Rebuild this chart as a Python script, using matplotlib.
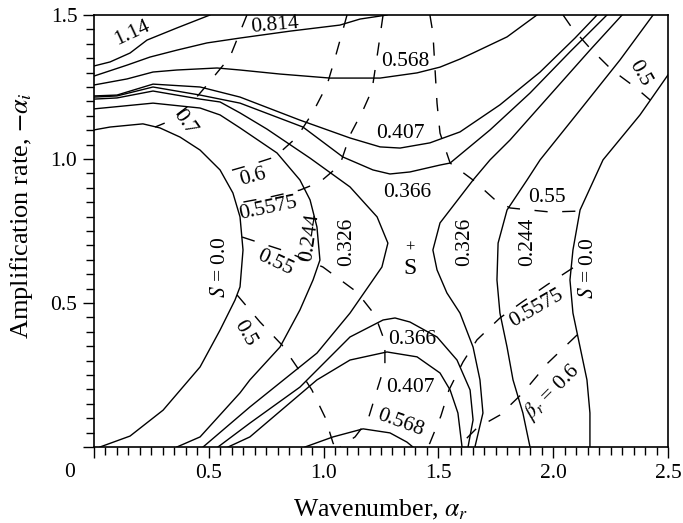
import matplotlib
matplotlib.use("Agg")
import matplotlib.pyplot as plt
from matplotlib.ticker import MultipleLocator, FixedLocator

plt.rcParams['font.family'] = ['Liberation Serif', 'DejaVu Serif']
plt.rcParams['mathtext.fontset'] = 'stix'

# ---------------- data ----------------
# Solid contours (S values), as (alpha_r, -alpha_i) polylines
s114_x = [0, 0.070, 0.157, 0.231, 0.361, 0.505]
s114_y = [1.323, 1.337, 1.368, 1.413, 1.455, 1.5]

s0814_x = [0, 0.144, 0.244, 0.361, 0.492, 0.636, 0.854, 1.071, 1.159, 1.276]
s0814_y = [1.288, 1.326, 1.354, 1.378, 1.403, 1.420, 1.444, 1.465, 1.486, 1.5]

s0568u_x = [0, 0.144, 0.257, 0.361, 0.536, 0.636, 0.810, 1.028, 1.246, 1.407, 1.507, 1.594, 1.651, 1.799, 1.929]
s0568u_y = [1.257, 1.278, 1.302, 1.309, 1.316, 1.309, 1.295, 1.281, 1.281, 1.299, 1.319, 1.347, 1.368, 1.424, 1.5]

s0407u_x = [0, 0.100, 0.257, 0.462, 0.636, 0.897, 1.115, 1.246, 1.333, 1.463, 1.594, 1.768, 1.943, 2.095, 2.191]
s0407u_y = [1.219, 1.222, 1.260, 1.250, 1.215, 1.135, 1.073, 1.042, 1.038, 1.056, 1.094, 1.188, 1.302, 1.420, 1.5]

s0366u_x = [0, 0.100, 0.257, 0.462, 0.636, 0.910, 1.084, 1.215, 1.289, 1.376, 1.507, 1.551, 1.725, 1.899, 2.073, 2.234]
s0366u_y = [1.215, 1.219, 1.250, 1.222, 1.194, 1.111, 1.007, 0.962, 0.948, 0.955, 0.979, 0.986, 1.101, 1.229, 1.372, 1.5]

s0326l_x = [0, 0.100, 0.257, 0.462, 0.549, 0.636, 0.753, 0.941, 1.115, 1.233, 1.280, 1.254, 1.215, 1.115, 0.971, 0.679, 0.475]
s0326l_y = [1.208, 1.212, 1.236, 1.208, 1.198, 1.160, 1.104, 1.003, 0.903, 0.799, 0.708, 0.625, 0.580, 0.465, 0.326, 0.139, 0.0]

s0244l_x = [0, 0.257, 0.462, 0.549, 0.636, 0.797, 0.897, 0.941, 0.971, 0.984, 0.954, 0.897, 0.810, 0.679, 0.636, 0.462, 0.361]
s0244l_y = [1.174, 1.194, 1.177, 1.153, 1.108, 1.021, 0.927, 0.858, 0.764, 0.649, 0.580, 0.476, 0.347, 0.233, 0.188, 0.035, 0.0]

s000l_x = [0, 0.070, 0.213, 0.287, 0.375, 0.462, 0.549, 0.605, 0.636, 0.649, 0.636, 0.614, 0.549, 0.462, 0.301, 0.157, 0.026]
s000l_y = [1.101, 1.111, 1.122, 1.108, 1.076, 1.031, 0.962, 0.882, 0.799, 0.684, 0.556, 0.510, 0.406, 0.278, 0.128, 0.038, 0.0]

s0326r_x = [2.300, 2.160, 1.986, 1.812, 1.725, 1.651, 1.594, 1.507, 1.476, 1.494, 1.537, 1.594, 1.651, 1.681, 1.694, 1.659]
s0326r_y = [1.5, 1.378, 1.222, 1.066, 0.997, 0.927, 0.868, 0.778, 0.684, 0.615, 0.535, 0.465, 0.347, 0.233, 0.118, 0.0]

s0244r_x = [2.435, 2.291, 2.117, 1.943, 1.886, 1.799, 1.760, 1.755, 1.768, 1.799, 1.825, 1.868, 1.899]
s0244r_y = [1.5, 1.344, 1.170, 0.997, 0.927, 0.823, 0.708, 0.580, 0.465, 0.347, 0.233, 0.118, 0.0]

s000r_x = [2.5, 2.378, 2.217, 2.117, 2.086, 2.073, 2.086, 2.117, 2.147, 2.160, 2.160]
s000r_y = [1.292, 1.153, 0.997, 0.823, 0.684, 0.580, 0.465, 0.347, 0.233, 0.118, 0.0]

s0366b_x = [0.540, 0.679, 0.897, 1.115, 1.259, 1.311, 1.376, 1.494, 1.581, 1.638, 1.651, 1.629]
s0366b_y = [0, 0.083, 0.208, 0.382, 0.441, 0.448, 0.434, 0.382, 0.302, 0.198, 0.094, 0.0]

s0407b_x = [0.584, 0.679, 0.971, 1.115, 1.276, 1.407, 1.507, 1.551, 1.585, 1.603]
s0407b_y = [0, 0.035, 0.233, 0.302, 0.330, 0.313, 0.257, 0.198, 0.118, 0.0]

s0568b_x = [0.919, 1.041, 1.172, 1.289, 1.363, 1.389]
s0568b_y = [0, 0.035, 0.063, 0.049, 0.017, 0.0]

# Dashed contours (beta_r values)
b07_x = [0.666, 0.636, 0.592, 0.492, 0.418, 0.318, 0.266]
b07_y = [1.5, 1.441, 1.354, 1.257, 1.188, 1.128, 1.111]

b06l_x = [1.102, 1.084, 1.050, 1.015, 0.954, 0.884, 0.788, 0.679, 0.557]
b06l_y = [1.5, 1.448, 1.351, 1.257, 1.163, 1.076, 1.007, 0.979, 0.951]

b05575l_x = [1.259, 1.237, 1.211, 1.172, 1.115, 1.071, 0.984, 0.897, 0.767, 0.627]
b05575l_y = [1.5, 1.378, 1.240, 1.170, 1.083, 0.979, 0.920, 0.892, 0.868, 0.847]

b055l_x = [0.645, 0.819, 0.997, 1.145, 1.224, 1.267, 1.267, 1.233, 1.193, 1.137, 1.071]
b055l_y = [0.729, 0.684, 0.625, 0.538, 0.458, 0.365, 0.285, 0.198, 0.094, 0.035, 0.0]

b05l_x = [0.623, 0.723, 0.819, 0.884, 0.949, 1.006, 1.041, 1.050]
b05l_y = [0.528, 0.434, 0.354, 0.278, 0.198, 0.104, 0.014, 0.0]

b055r_x = [1.463, 1.476, 1.494, 1.507, 1.551, 1.651, 1.747, 1.812, 1.986, 2.108]
b055r_y = [1.5, 1.438, 1.194, 1.090, 0.986, 0.927, 0.858, 0.830, 0.816, 0.819]

b05575r_x = [2.086, 1.973, 1.864, 1.768, 1.668, 1.607, 1.546, 1.511, 1.463, 1.455]
b05575r_y = [0.622, 0.563, 0.503, 0.448, 0.372, 0.295, 0.198, 0.108, 0.014, 0.0]

b06r_x = [2.104, 1.977, 1.868, 1.768, 1.668, 1.594, 1.585]
b06r_y = [0.389, 0.292, 0.188, 0.111, 0.066, 0.007, 0.0]

b05r_x = [2.043, 2.082, 2.160, 2.256, 2.356, 2.422]
b05r_y = [1.5, 1.455, 1.385, 1.309, 1.250, 1.205]

saddle_x = 1.376
saddle_y = 0.691

x_ticks = [0, 0.5, 1.0, 1.5, 2.0, 2.5]
x_ticklabels = ['', '0.5', '1.0', '1.5', '2.0', '2.5']
y_ticks = [0, 0.5, 1.0, 1.5]
y_ticklabels = ['', '0.5', '1.0', '1.5']

solid_curves = [
    (s114_x, s114_y), (s0814_x, s0814_y), (s0568u_x, s0568u_y),
    (s0407u_x, s0407u_y), (s0366u_x, s0366u_y), (s0326l_x, s0326l_y),
    (s0244l_x, s0244l_y), (s000l_x, s000l_y), (s0326r_x, s0326r_y),
    (s0244r_x, s0244r_y), (s000r_x, s000r_y), (s0366b_x, s0366b_y),
    (s0407b_x, s0407b_y), (s0568b_x, s0568b_y),
]
dashed_curves = [
    (b07_x, b07_y), (b06l_x, b06l_y), (b05575l_x, b05575l_y),
    (b055l_x, b055l_y), (b05l_x, b05l_y), (b055r_x, b055r_y),
    (b05575r_x, b05575r_y), (b06r_x, b06r_y), (b05r_x, b05r_y),
]

# ---------------- drawing ----------------
fig = plt.figure(figsize=(6.83, 5.23), dpi=100)
ax = fig.add_axes([94/683, 1-447/523, (668-94)/683, (447-15)/523])

for xs, ys in solid_curves:
    ax.plot(xs, ys, color='black', lw=1.0, solid_joinstyle='round')
for xs, ys in dashed_curves:
    ax.plot(xs, ys, color='black', lw=1.0, dashes=(9.5, 10.5))

LFS = 15.5
labels = [
    ("1.14", 0.166, 1.438, 25), ("0.814", 0.788, 1.465, 5),
    ("0.568", 1.354, 1.337, 0), ("0.407", 1.333, 1.090, 0),
    ("0.366", 1.363, 0.882, 0), ("0.326", 1.102, 0.712, 90),
    ("0.244", 0.941, 0.729, 82), ("$S$ = 0.0", 0.549, 0.625, 90),
    ("0.6", 0.692, 0.938, 15), ("0.5575", 0.758, 0.830, 12),
    ("0.55", 0.788, 0.639, -25), ("0.5", 0.658, 0.396, -60),
    ("0.7", 0.396, 1.128, -55), ("0.366", 1.385, 0.372, 0),
    ("0.407", 1.376, 0.208, 0), ("0.568", 1.333, 0.083, -20),
    ("0.326", 1.616, 0.712, 90), ("0.244", 1.890, 0.712, 90),
    ("0.55", 1.973, 0.868, 0), ("$S$ = 0.0", 2.152, 0.622, 90),
    ("0.5575", 1.929, 0.483, 30), (r"$\beta_r$ = 0.6", 1.995, 0.191, 45),
    ("0.5", 2.378, 1.299, -60),
]
for t, x, y, r in labels:
    ax.text(x, y, t, fontsize=LFS, rotation=r, ha='center', va='center',
            rotation_mode='anchor')

ax.text(saddle_x, saddle_y, '+', fontsize=12, ha='center', va='center')
ax.text(saddle_x, saddle_y - 0.07, 'S', fontsize=17, ha='center', va='center')

ax.set_xlim(0, 2.5)
ax.set_ylim(0, 1.5)
ax.xaxis.set_major_locator(FixedLocator(x_ticks))
ax.set_xticklabels(x_ticklabels)
ax.yaxis.set_major_locator(FixedLocator(y_ticks))
ax.set_yticklabels(y_ticklabels)
ax.xaxis.set_minor_locator(MultipleLocator(0.05))
ax.yaxis.set_minor_locator(MultipleLocator(0.05))
ax.tick_params(which='major', direction='out', length=8, width=1.0,
               labelsize=15.5, pad=4)
ax.tick_params(which='minor', direction='out', length=5.5, width=1.0)
for s in ax.spines.values():
    s.set_linewidth(1.2)

ax.text(-0.105, -0.087, '0', fontsize=15.5, ha='center', va='center',
        clip_on=False)

ax.set_xlabel(r'Wavenumber, $\alpha_r$', fontsize=18.5, labelpad=11)
ax.set_ylabel(r'Amplification rate, $-\alpha_i$', fontsize=19)
ax.yaxis.set_label_coords(-0.103, 0.535)

fig.savefig('out.png', dpi=100)
